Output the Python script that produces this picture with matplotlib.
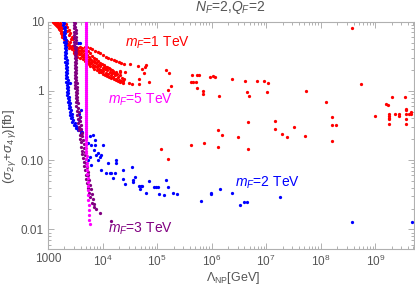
import numpy as np
import matplotlib
matplotlib.use("Agg")
import matplotlib.pyplot as plt
from matplotlib.ticker import FixedLocator, FixedFormatter, LogLocator, NullFormatter

plt.rcParams['font.family'] = ['Liberation Sans', 'DejaVu Sans']
plt.rcParams['mathtext.fontset'] = 'custom'
plt.rcParams['mathtext.rm'] = 'Liberation Sans'
plt.rcParams['mathtext.it'] = 'Liberation Sans:italic'
plt.rcParams['mathtext.bf'] = 'Liberation Sans:bold'

# ---------------- data: (Lambda_NP [GeV], sigma [fb]) ----------------
red_band = [
    (1235, 9.9), (1290, 9.7), (1360, 9.9), (1420, 9.46), (1480, 9.8), (1550, 9.3),
    (1380, 9.05), (1325, 9.3), (1635, 9.7), (1590, 8.85), (1460, 8.65), (1710, 9.05),
    (1525, 8.3), (1685, 8.47), (1780, 8.1), (1590, 7.9), (1635, 7.58), (1757, 7.3),
    (1710, 6.9), (1820, 7.05), (1885, 6.65), (1780, 6.42), (1940, 6.2), (1820, 5.95),
    (2023, 5.9), (1940, 5.55), (2110, 5.43), (2050, 5.14), (2170, 4.97), (2260, 5.3),
    (2328, 4.8), (2230, 4.55), (2430, 4.65), (2498, 4.35), (2570, 5.05), (2390, 4.16),
    (2640, 4.25), (2720, 3.98), (2800, 4.5), (2876, 4.12), (2960, 3.8), (3040, 4.35),
    (3130, 3.98), (3220, 3.64), (3310, 4.2), (3405, 3.89), (3500, 3.48), (3600, 4.12),
    (3700, 3.72), (3811, 3.37), (3920, 4.35), (3985, 3.89), (4090, 3.55), (4210, 3.19),
    (4270, 4.12), (4387, 3.72), (4510, 3.41), (4580, 3.05), (4708, 4.35), (4780, 3.89),
    (4911, 3.48), (4980, 2.92), (5200, 3.27), (5350, 2.79), (5418, 3.8), (5560, 3.05),
    (5640, 2.61), (5814, 3.48), (5980, 2.92), (6150, 2.50), (6330, 3.2), (6500, 2.74),
    (6693, 2.40), (6880, 3.0), (7080, 2.61), (7290, 2.28), (7500, 2.87), (7706, 2.50),
    (7930, 2.18), (8150, 2.69), (8400, 2.37), (8630, 2.09), (8872, 2.56), (9130, 2.28),
    (9380, 2.00), (9800, 2.45), (10080, 2.15), (10360, 1.92), (10650, 2.33), (10960, 2.09),
    (11440, 1.83), (11760, 2.24), (12090, 2.00), (12620, 1.75), (13160, 2.12), (13540, 1.90),
    (14130, 1.70), (14730, 2.0), (15140, 1.79), (15800, 1.60), (16480, 1.83), (17180, 1.68),
    (17950, 1.50), (18720, 1.75), (19520, 1.60), (20070, 1.44), (21220, 1.68), (22410, 1.54),
    (23400, 1.38),
    (5200, 4.35), (5814, 4.12), (6500, 3.98), (7290, 3.8), (8268, 3.64), (9130, 3.48),
    (10214, 3.30), (11440, 3.12), (12770, 3.02), (14320, 2.92), (16030, 2.79), (17950, 2.69),
    (19800, 2.61),
    (2110, 9.3), (2260, 8.47), (2390, 7.58), (2570, 6.78), (2720, 6.07), (2830, 5.55),
    (2200, 7.4), (2430, 6.5), (2640, 5.65),
    (3400, 3.1), (3900, 2.95), (4300, 2.85), (4700, 2.7), (5100, 2.6), (5600, 2.45),
    (6000, 2.3), (6600, 2.2), (7100, 2.1), (7800, 2.0), (8500, 1.9), (9300, 1.85),
    (10000, 1.78), (11000, 1.72), (12000, 1.65), (13000, 1.6), (14500, 1.55), (16000, 1.5),
    (17500, 1.45), (19000, 1.4), (21000, 1.35), (24000, 1.3),
    (3000, 3.5), (3300, 3.3), (3700, 3.45), (4400, 3.25), (5000, 3.1), (6200, 2.8),
    (7000, 2.75), (8000, 2.6), (9000, 2.4), (10500, 2.25), (12000, 2.2), (13800, 2.05),
    (15500, 1.95), (18000, 1.9), (20500, 1.85),
]
red_sparse = [
    (22000, 2.56), (24500, 2.45), (21000, 1.96), (25500, 1.9), (24500, 1.47), (22000, 1.39),
    (32000, 2.45), (45000, 2.31), (52000, 2.07), (59000, 2.24), (62000, 2.35), (57000, 1.79),
    (46000, 1.49), (34000, 1.24), (31000, 1.32), (46000, 1.26), (71000, 1.35),
    (144000, 2.0), (166000, 1.79), (183000, 1.18), (160000, 1.03), (118000, 0.143), (160000, 0.104),
    (430000, 1.71), (530000, 1.68), (590000, 1.68), (410000, 1.33), (460000, 1.35), (510000, 1.33),
    (530000, 1.09), (700000, 1.0), (700000, 0.89), (930000, 1.6), (1050000, 1.65), (1130000, 1.6),
    (1370000, 0.84), (1300000, 0.27), (1540000, 0.23), (1300000, 0.153), (720000, 0.177),
    (420000, 0.166), (2400000, 1.47), (4100000, 1.37), (4400000, 0.97), (4900000, 0.84),
    (6900000, 1.39), (9200000, 1.41), (10600000, 1.29), (10400000, 0.95), (4700000, 0.35),
    (3000000, 0.213), (4700000, 0.147),
    (14800000, 0.363), (14600000, 0.285), (19400000, 0.238), (24000000, 0.213), (33000000, 0.298),
    (51000000, 0.225), (54000000, 0.99), (1.23e8, 0.69), (1.63e8, 0.415), (1.63e8, 0.32),
    (1.9e8, 0.325), (1.63e8, 0.191), (3.7e8, 8.0), (5.5e8, 1.26), (1.0e9, 0.44), (1.6e9, 0.65),
    (1.7e9, 0.63), (2.0e9, 0.83), (1.8e9, 0.47), (1.8e9, 0.44), (1.8e9, 0.41), (1.8e9, 0.39),
    (1.8e9, 0.33), (2.3e9, 0.46), (2.7e9, 0.46), (2.7e9, 0.44), (3.45e9, 0.83), (3.6e9, 0.55),
    (3.6e9, 0.53), (3.6e9, 0.46), (3.6e9, 0.39), (3.6e9, 0.33), (4.15e9, 0.46), (4.6e9, 0.50),
    (4.6e9, 0.47),
]
blue_band = [
    (1885, 9.9), (1990, 9.46), (1915, 8.95), (2023, 8.47), (1940, 8.01), (2050, 7.58),
    (1940, 7.17), (2080, 6.78), (1975, 6.42), (2080, 6.07), (1990, 5.74), (2110, 5.43),
    (1990, 5.14), (2110, 4.86), (2023, 4.60), (2140, 4.35), (2023, 4.12), (2140, 3.89),
    (2050, 3.68), (2170, 3.48), (2050, 3.30), (2170, 3.12), (2080, 2.95), (2200, 2.79),
    (2080, 2.64), (2200, 2.50), (2110, 2.37), (2230, 2.24), (2110, 2.12), (2230, 2.00),
    (2140, 1.90), (2260, 1.79), (2140, 1.70), (2260, 1.60), (2170, 1.52), (2290, 1.44),
    (2170, 1.36), (2290, 1.29), (2200, 1.22), (2328, 1.15), (2200, 1.09), (2328, 1.03),
    (2230, 0.98), (2360, 0.92), (2260, 0.875), (2390, 0.83), (2290, 0.785), (2430, 0.74),
    (2328, 0.70), (2498, 0.66), (2390, 0.625), (2570, 0.59), (2430, 0.56), (2640, 0.53),
    (2498, 0.50), (2720, 0.47), (2570, 0.445), (2800, 0.42), (2680, 0.40), (2920, 0.38),
    (2800, 0.36), (3085, 0.34), (2960, 0.32), (3310, 0.31), (3220, 0.295), (3600, 0.29),
    (3552, 0.27), (3985, 0.265), (4270, 0.255), (4090, 0.245),
    (2498, 1.29), (3650, 0.47), (3920, 0.42), (3700, 0.38), (4090, 0.53), (3552, 4.86), (3811, 4.95),
]
blue_sparse = [
    (5050, 0.218), (5800, 0.22), (6700, 0.231), (7200, 0.195), (5400, 0.175), (6100, 0.166),
    (7200, 0.166), (10200, 0.166), (7000, 0.14), (7700, 0.119), (8300, 0.125), (9500, 0.119),
    (8900, 0.112), (8300, 0.100), (6200, 0.085), (5400, 0.100), (5800, 0.112), (12600, 0.092),
    (17500, 0.100), (18000, 0.090), (9500, 0.072), (11800, 0.065), (13500, 0.065), (14500, 0.066),
    (16700, 0.065), (15600, 0.055), (23800, 0.072), (25500, 0.045), (36300, 0.052), (35000, 0.080),
    (24000, 0.053), (39000, 0.058), (36000, 0.049), (47000, 0.043), (50000, 0.043), (52000, 0.043),
    (48000, 0.038), (62000, 0.034), (71000, 0.050), (87000, 0.041), (95000, 0.041), (105000, 0.041),
    (110000, 0.032), (133000, 0.031), (144000, 0.052), (160000, 0.041), (196000, 0.033),
    (230000, 0.032), (650000, 0.026), (970000, 0.032), (990000, 0.033), (1450000, 0.038),
    (2350000, 0.034), (3300000, 0.0228), (3900000, 0.0245), (4400000, 0.0245), (17800000, 0.029),
    (3.8e8, 0.0126), (4.8e9, 0.0127),
]
purple_pts = [
    (3000, 9.9), (3180, 9.46), (3000, 8.95), (3180, 8.47), (3040, 8.01), (3220, 7.58),
    (3040, 7.17), (3220, 6.78), (3040, 6.42), (3220, 6.07), (3040, 5.74), (3220, 5.43),
    (3040, 5.14), (3220, 4.86), (3040, 4.60), (3220, 4.35), (3085, 4.12), (3260, 3.89),
    (3085, 3.68), (3260, 3.48), (3085, 3.30), (3260, 3.12), (3085, 2.95), (3260, 2.79),
    (3085, 2.64), (3260, 2.50), (3085, 2.37), (3260, 2.24), (3130, 2.12), (3310, 2.00),
    (3130, 1.90), (3310, 1.79), (3130, 1.70), (3310, 1.60), (3130, 1.52), (3310, 1.44),
    (3130, 1.36), (3360, 1.29), (3180, 1.22), (3360, 1.15), (3180, 1.09), (3405, 1.03),
    (3220, 0.98), (3405, 0.92), (3220, 0.875), (3455, 0.83), (3260, 0.785), (3455, 0.74),
    (3260, 0.70), (3552, 0.66), (3310, 0.60), (3600, 0.56), (3360, 0.52), (3700, 0.49),
    (3455, 0.445), (3811, 0.42), (3500, 0.39), (3860, 0.37), (3600, 0.34), (3985, 0.32),
    (3650, 0.30), (4090, 0.285), (3700, 0.27), (4150, 0.25), (3811, 0.23), (4270, 0.22),
    (3920, 0.205), (4387, 0.195), (3985, 0.18), (4510, 0.17), (4090, 0.156), (4640, 0.15),
    (4150, 0.137), (4708, 0.133), (4270, 0.122), (4840, 0.118), (4387, 0.108), (4911, 0.103),
    (4510, 0.094), (5050, 0.090), (4640, 0.083), (5200, 0.079), (4780, 0.072), (5350, 0.068),
    (4911, 0.062), (5490, 0.06), (5050, 0.054), (5640, 0.052), (5280, 0.046), (5814, 0.044),
    (5490, 0.040), (6060, 0.038), (5640, 0.034), (6330, 0.032), (5980, 0.029), (6693, 0.027),
    (6400, 0.024), (7080, 0.023), (6880, 0.021), (7500, 0.020), (8872, 0.0175), (14500, 0.0134),
]
magenta_pts = [
    (4900, 9.89), (4950, 9.25), (4880, 8.66), (4940, 8.10), (4900, 7.58), (4950, 7.09),
    (4880, 6.63), (4940, 6.21), (4900, 5.81), (4950, 5.43), (4880, 5.08), (4940, 4.76),
    (4900, 4.45), (4950, 4.16), (4880, 3.90), (4940, 3.65), (4900, 3.41), (4950, 3.19),
    (4880, 2.99), (4940, 2.80), (4900, 2.61), (4950, 2.45), (4880, 2.29), (4940, 2.14),
    (4900, 2.00), (4950, 1.87), (4880, 1.75), (4940, 1.64), (4900, 1.54), (4950, 1.44),
    (4880, 1.34), (4940, 1.26), (4900, 1.18), (4950, 1.10), (4880, 1.03), (4940, 0.964),
    (4900, 0.902), (4950, 0.844), (4880, 0.790), (4940, 0.739), (4900, 0.691), (4950, 0.647),
    (4880, 0.605), (4940, 0.566), (4900, 0.530), (4950, 0.496), (4880, 0.464), (4940, 0.434),
    (4900, 0.406), (4950, 0.380), (4880, 0.355), (4940, 0.333), (4900, 0.311), (4950, 0.291),
    (4880, 0.272), (4960, 0.255), (4900, 0.238), (4980, 0.223), (4920, 0.209), (5000, 0.195),
    (4950, 0.179), (5030, 0.164), (4980, 0.150), (5060, 0.137), (5010, 0.125), (5100, 0.115),
    (5080, 0.103), (5150, 0.0919), (5120, 0.0823), (5200, 0.0720), (5250, 0.0630),
    (5300, 0.0552), (5330, 0.0483), (5380, 0.0423), (5420, 0.0370), (5480, 0.0314),
    (5520, 0.0266), (5560, 0.0225), (5620, 0.0190), (5680, 0.0161), (5720, 0.0137), (5810, 0.0120),
]

labels = ["$m_F$=1 TeV", "$m_F$=5 TeV", "$m_F$=2 TeV", "$m_F$=3 TeV"]
colors = ["#ff0000", "#ff00ff", "#0000ff", "#800080"]

y_ticks = [10, 1, 0.1, 0.01]
y_ticklabels = ["10", "1", "0.10", "0.01"]
x_ticks = [1e3, 1e4, 1e5, 1e6, 1e7, 1e8, 1e9]
x_ticklabels = ["1000", "$10^4$", "$10^5$", "$10^6$", "$10^7$", "$10^8$", "$10^9$"]

# ---------------- figure ----------------
W, H = 415, 289
fig = plt.figure(figsize=(W / 100, H / 100), dpi=100)
ax = fig.add_axes([48 / W, 1 - 249.3 / H, (414.3 - 48) / W, (249.3 - 21.7) / H])
ax.set_xscale('log')
ax.set_yscale('log')
ax.set_xlim(1000, 5.2e9)
ax.set_ylim(0.00515, 10)

ms = 5.5
def sc(pts, c):
    a = np.array(pts, dtype=float)
    ax.scatter(a[:, 0], a[:, 1], s=ms, c=c, marker='o', linewidths=0, zorder=3)

sc(red_band, colors[0])
sc(red_sparse, colors[0])
sc(blue_band, colors[2])
sc(blue_sparse, colors[2])
sc(purple_pts, colors[3])
sc(magenta_pts, colors[1])

frame_c = '#b0b0b0'
tick_c = '#555555'
for s in ax.spines.values():
    s.set_color(frame_c)
    s.set_linewidth(0.8)

ax.yaxis.set_major_locator(FixedLocator(y_ticks))
ax.yaxis.set_major_formatter(FixedFormatter(y_ticklabels))
ax.xaxis.set_major_locator(FixedLocator(x_ticks))
ax.xaxis.set_major_formatter(FixedFormatter(x_ticklabels))
ax.xaxis.set_minor_locator(LogLocator(base=10, subs=np.arange(2, 10), numticks=20))
ax.yaxis.set_minor_locator(LogLocator(base=10, subs=np.arange(2, 10), numticks=20))
ax.xaxis.set_minor_formatter(NullFormatter())
ax.yaxis.set_minor_formatter(NullFormatter())
ax.tick_params(which='both', direction='in', top=True, right=True, color=frame_c,
               labelcolor=tick_c, labelsize=8.5, width=0.7)
ax.tick_params(which='major', length=4, pad=3)
ax.tick_params(which='minor', length=2)

fig.text(230 / W, 1 - 8 / H, "$N_F$=2,$Q_F$=2", ha='center', va='center', fontsize=10, color=tick_c)
fig.text(10 / W, 1 - 147 / H, r"$(\sigma_{2\,\gamma}$+$\sigma_{4\,\gamma})$[fb]", rotation=90,
         ha='center', va='center', fontsize=9.5, color=tick_c)
fig.text(233 / W, 1 - 278 / H, r"$\Lambda_{\mathrm{NP}}$[GeV]", ha='center', va='center',
         fontsize=9, color=tick_c)

fig.text(125 / W, 1 - 43 / H, labels[0], color=colors[0], fontsize=10, ha='left', va='center')
fig.text(108 / W, 1 - 100 / H, labels[1], color=colors[1], fontsize=10, ha='left', va='center')
fig.text(235 / W, 1 - 183 / H, labels[2], color=colors[2], fontsize=10, ha='left', va='center')
fig.text(108 / W, 1 - 229 / H, labels[3], color=colors[3], fontsize=10, ha='left', va='center')

fig.savefig("out.png", dpi=100)
